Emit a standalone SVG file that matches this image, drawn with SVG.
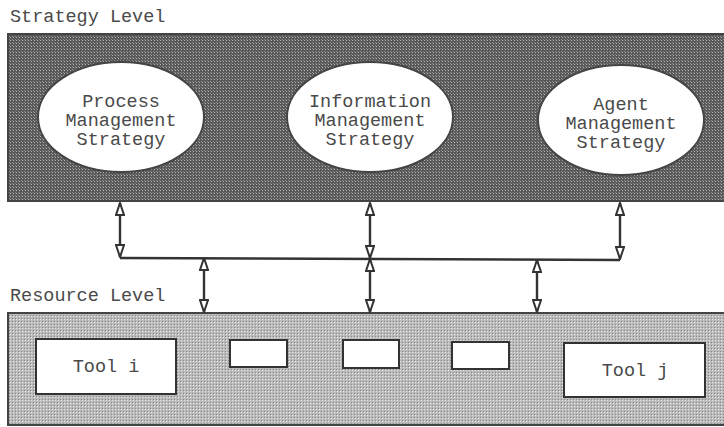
<svg xmlns="http://www.w3.org/2000/svg" width="724" height="427" viewBox="0 0 724 427">
<style>
.lbl{font-family:"Liberation Mono","DejaVu Sans Mono",monospace;font-size:18.5px;fill:#4a4a4a}
.nt{font-family:"Liberation Mono","DejaVu Sans Mono",monospace;font-size:18.5px;fill:#4a4a4a;text-anchor:middle}
.ell{fill:#fff;stroke:#444;stroke-width:2}
.box{fill:#fff;stroke:#333;stroke-width:2}
.con{stroke:#333;stroke-width:2.4;fill:none}
</style>
<defs>
<pattern id="dark" width="3" height="3" patternUnits="userSpaceOnUse">
<rect width="3" height="3" fill="#595959"/>
<rect x="1" y="1" width="1" height="1" fill="#b4b4b4"/>
<rect x="0" y="0" width="1" height="1" fill="#8a8a8a"/>
</pattern>
<pattern id="light" width="3" height="3" patternUnits="userSpaceOnUse">
<rect width="3" height="3" fill="#bababa"/>
<rect x="1" y="1" width="1" height="1" fill="#e8e8e8"/>
<rect x="0" y="0" width="1" height="1" fill="#888888"/>
</pattern>
<marker id="up" viewBox="0 0 10 14" refX="5" refY="1" markerWidth="10" markerHeight="14" markerUnits="userSpaceOnUse" orient="0">
<path d="M5,1 L9,13 L1,13 Z" fill="#fff" stroke="#333" stroke-width="2"/>
</marker>
<marker id="down" viewBox="0 0 10 14" refX="5" refY="13" markerWidth="10" markerHeight="14" markerUnits="userSpaceOnUse" orient="0">
<path d="M5,13 L9,1 L1,1 Z" fill="#fff" stroke="#333" stroke-width="2"/>
</marker>
</defs>

<g id="strategy-level">
<text class="lbl" x="10" y="22">Strategy Level</text>
<rect x="8" y="34" width="720" height="167" fill="url(#dark)" stroke="#444" stroke-width="2"/>
</g>
<g id="process">
<ellipse class="ell" cx="121" cy="117" rx="83" ry="55"/>
<text class="nt" x="121" y="107">Process</text>
<text class="nt" x="121" y="126">Management</text>
<text class="nt" x="121" y="145">Strategy</text>
</g>
<g id="information">
<ellipse class="ell" cx="370" cy="117" rx="83" ry="55"/>
<text class="nt" x="370" y="107">Information</text>
<text class="nt" x="370" y="126">Management</text>
<text class="nt" x="370" y="145">Strategy</text>
</g>
<g id="agent">
<ellipse class="ell" cx="621" cy="120" rx="83" ry="55"/>
<text class="nt" x="621" y="110">Agent</text>
<text class="nt" x="621" y="129">Management</text>
<text class="nt" x="621" y="148">Strategy</text>
</g>

<g id="resource-level">
<text class="lbl" x="10" y="301">Resource Level</text>
<rect x="8" y="313" width="720" height="112" fill="url(#light)" stroke="#444" stroke-width="2"/>
</g>
<g id="tool-i">
<rect class="box" x="36" y="339" width="140" height="55"/>
<text class="nt" x="106" y="372">Tool i</text>
</g>
<g id="box-1"><rect class="box" x="230" y="340" width="57" height="27"/></g>
<g id="box-2"><rect class="box" x="343" y="340" width="56" height="28"/></g>
<g id="box-3"><rect class="box" x="452" y="342" width="57" height="27"/></g>
<g id="tool-j">
<rect class="box" x="564" y="343" width="141" height="54"/>
<text class="nt" x="635" y="376">Tool j</text>
</g>

<g id="connectors">
<polyline class="con" points="120,258 620,260"/>
<line class="con" x1="120" y1="203" x2="120" y2="257" marker-start="url(#up)" marker-end="url(#down)"/>
<line class="con" x1="370" y1="203" x2="370" y2="258" marker-start="url(#up)" marker-end="url(#down)"/>
<line class="con" x1="620" y1="203" x2="620" y2="259" marker-start="url(#up)" marker-end="url(#down)"/>
<line class="con" x1="204" y1="258" x2="204" y2="312" marker-start="url(#up)" marker-end="url(#down)"/>
<line class="con" x1="370" y1="259" x2="370" y2="312" marker-start="url(#up)" marker-end="url(#down)"/>
<line class="con" x1="537" y1="260" x2="537" y2="312" marker-start="url(#up)" marker-end="url(#down)"/>
</g>
</svg>
